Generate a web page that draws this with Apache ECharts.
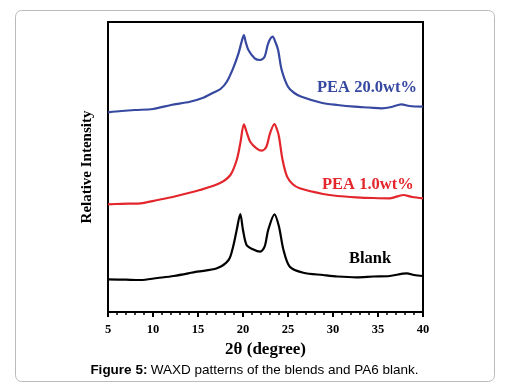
<!DOCTYPE html>
<html><head><meta charset="utf-8">
<script src="https://cdn.jsdelivr.net/npm/echarts@6/dist/echarts.min.js"></script>
<style>html,body{margin:0;padding:0;background:#fff}#c{width:509px;height:389px}</style>
</head><body><div id="c"></div>
<script>
var xTicks = [5, 10, 15, 20, 25, 30, 35, 40];
var seriesNames = ['PEA 20.0wt%', 'PEA 1.0wt%', 'Blank'];
var blueX = [5,6.5,8,10,12,14.1,15.5,16.7,17.5,18.2,18.9,19.5,19.9,20.1,20.3,20.6,21.3,21.9,22.4,22.8,23.3,23.6,23.9,24.3,25,25.7,26.5,28.7,30.5,32.4,34,35.4,36.5,37.6,38.5,40];
var blueY = [199.7,201,202,203,207,210.3,214,219.3,223,230.3,243.7,258.7,272,277,270,262,253.7,252,255.3,268.7,275.3,270,262,242,225.3,219,215.3,209.3,207,205.3,204.5,203.7,205,207.7,206,205.3];
var redX = [5,6.5,8.6,10.5,12.3,15.2,17.4,18.6,19.3,19.7,20.1,20.4,20.8,21.5,22.1,22.6,23,23.5,23.8,24,24.4,24.9,25.5,26.3,28.9,30.5,32.6,34.5,36.3,37.8,38.8,40];
var redY = [107.7,108.2,108.7,112,115.3,122,128.7,137,152,168.7,187.7,180,170.3,163.7,161.3,165.3,178.7,188,182,175.3,152,135.3,128,123.7,118,116,114.7,114,113.7,117,115,113.7];
var blackX = [5,7,8.6,10.5,12.3,14.9,17.1,18.4,18.9,19.3,19.7,20,20.4,21.1,21.9,22.4,22.8,23.5,24,24.5,25.2,26.7,28.9,30.5,32.6,34.5,36.3,38.2,39,40];
var blackY = [32.7,32.3,32,34,36,40.3,43.7,52,65.3,82,98,82,67,62.7,60.3,65.3,82,97.7,85.3,62,45.3,39.3,37,35.5,34.7,35.5,36,38.7,37,36];

function pairs(xs, ys){ return xs.map(function(x,i){ return [x, ys[i]]; }); }

var chart = echarts.init(document.getElementById('c'));
var serif = '"Liberation Serif", "Times New Roman", serif';
chart.setOption({
  animation: false,
  grid: {left: 108, right: 86, top: 22, bottom: 77, show: true, borderColor: '#000', borderWidth: 2},
  xAxis: {
    type: 'value', min: 5, max: 40, interval: 5,
    name: '2θ (degree)', nameLocation: 'middle', nameGap: 26,
    nameTextStyle: {fontFamily: serif, fontWeight: 'bold', fontSize: 17, color: '#000'},
    axisLine: {lineStyle: {color: '#000', width: 2}},
    axisTick: {length: 5, lineStyle: {color: '#000', width: 2}},
    minorTick: {show: true, splitNumber: 5, length: 3, lineStyle: {color: '#000', width: 1.5}},
    axisLabel: {fontFamily: serif, fontWeight: 'bold', fontSize: 12.5, color: '#000', margin: 11,
      formatter: function(v){ return xTicks.indexOf(v) >= 0 ? String(v) : ''; }},
    splitLine: {show: false}
  },
  yAxis: {
    type: 'value', min: 0, max: 290,
    name: 'Relative Intensity', nameLocation: 'middle', nameGap: 13,
    nameTextStyle: {fontFamily: serif, fontWeight: 'bold', fontSize: 15, color: '#000'},
    axisLine: {show: true, lineStyle: {color: '#000', width: 2}},
    axisTick: {show: false}, axisLabel: {show: false}, splitLine: {show: false}
  },
  series: [
    {name: seriesNames[0], type: 'line', data: pairs(blueX, blueY), smooth: 0.3, showSymbol: false,
     lineStyle: {color: '#3648a0', width: 2.2}},
    {name: seriesNames[1], type: 'line', data: pairs(redX, redY), smooth: 0.3, showSymbol: false,
     lineStyle: {color: '#e3262c', width: 2.2}},
    {name: seriesNames[2], type: 'line', data: pairs(blackX, blackY), smooth: 0.3, showSymbol: false,
     lineStyle: {color: '#000', width: 2.2}}
  ],
  graphic: [
    {type: 'rect', shape: {x: 15.5, y: 10.5, width: 479, height: 371, r: 6}, z: -10,
     style: {fill: '#fff', stroke: '#bbb', lineWidth: 1}},
    {type: 'text', left: 317, top: 79, style: {text: seriesNames[0], font: 'bold 16.5px ' + serif, fill: '#3648a0'}},
    {type: 'text', left: 322, top: 176, style: {text: seriesNames[1], font: 'bold 16.5px ' + serif, fill: '#e3262c'}},
    {type: 'text', left: 349, top: 250, style: {text: seriesNames[2], font: 'bold 16.5px ' + serif, fill: '#000'}},
    {type: 'text', left: 'center', top: 363, style: {
      text: '{b|Figure 5:} {r|WAXD patterns of the blends and PA6 blank.}',
      rich: {b: {font: 'bold 13.5px "Liberation Sans", Arial, sans-serif', fill: '#000'},
             r: {font: '13.5px "Liberation Sans", Arial, sans-serif', fill: '#000'}}}}
  ]
});
</script></body></html>
